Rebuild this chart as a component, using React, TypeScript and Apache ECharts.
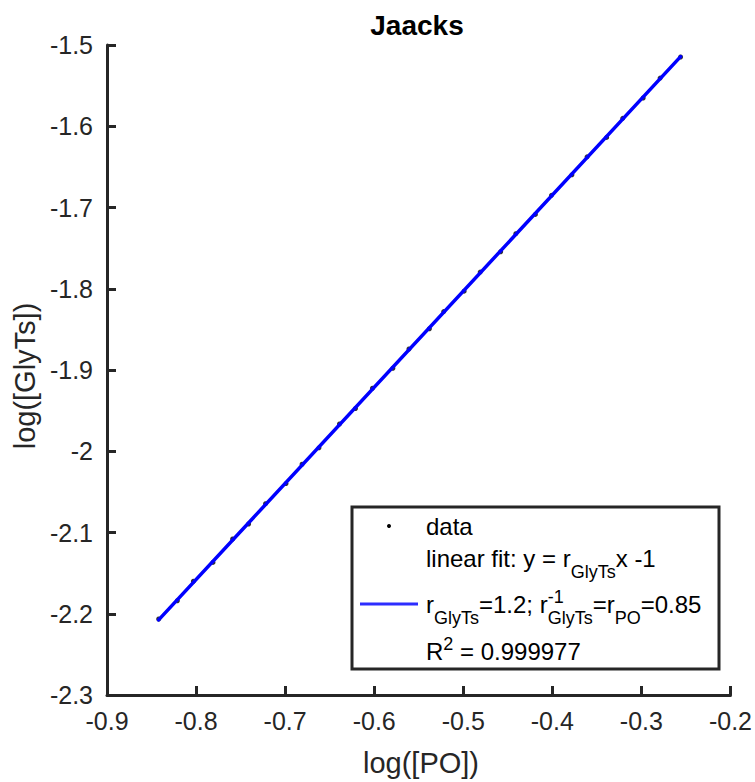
import React, { useEffect, useRef } from "react";
import * as echarts from "echarts";

// ---- data ----
const poX = [-0.842, -0.821, -0.803, -0.781, -0.759, -0.741, -0.722, -0.699, -0.681, -0.662, -0.639, -0.621, -0.602, -0.579, -0.561, -0.538, -0.522, -0.499, -0.481, -0.458, -0.441, -0.419, -0.401, -0.378, -0.361, -0.339, -0.321, -0.298, -0.279, -0.256];
const glyY = [-2.2065, -2.184, -2.16, -2.1368, -2.108, -2.0895, -2.0645, -2.0398, -2.016, -1.9958, -1.9665, -1.9474, -1.9225, -1.8978, -1.8742, -1.8492, -1.8281, -1.803, -1.7795, -1.7545, -1.7322, -1.7085, -1.685, -1.6598, -1.6376, -1.6137, -1.5903, -1.5652, -1.5407, -1.5148];
const fitX = [-0.842, -0.256];
const fitY = [-2.2076, -1.5143];

const TITLE = "Jaacks";
const X_NAME = "log([PO])";
const Y_NAME = "log([GlyTs])";

const FONT = '"Liberation Sans", Arial, Helvetica, sans-serif';
const MAIN = 24;
const SMALL = 18;
const TXT = "#000000";
const AX = "#262626";

type Seg = { t: string; k: "n" | "sub" | "sup" | "stack"; sup?: string; sub?: string };

let ctx: CanvasRenderingContext2D | null = null;
function measure(t: string, size: number): number {
  if (!ctx) {
    const c = document.createElement("canvas");
    ctx = c.getContext("2d");
  }
  if (!ctx) return t.length * size * 0.55;
  ctx.font = `${size}px ${FONT}`;
  return ctx.measureText(t).width;
}

function textEl(t: string, x: number, baseline: number, size: number) {
  return {
    type: "text",
    x,
    y: baseline - 0.35 * size,
    style: {
      text: t,
      font: `${size}px ${FONT}`,
      fill: TXT,
      textAlign: "left",
      textVerticalAlign: "middle",
    },
  };
}

function richRow(x0: number, base: number, segs: Seg[]) {
  const els: any[] = [];
  let x = x0;
  const SUB = 11;
  const SUP = -10;
  for (const s of segs) {
    if (s.k === "n") {
      els.push(textEl(s.t, x, base, MAIN));
      x += measure(s.t, MAIN);
    } else if (s.k === "sub") {
      els.push(textEl(s.t, x, base + SUB, SMALL));
      x += measure(s.t, SMALL);
    } else if (s.k === "sup") {
      els.push(textEl(s.t, x, base + SUP, SMALL));
      x += measure(s.t, SMALL);
    } else {
      const a = s.sup || "";
      const b = s.sub || "";
      els.push(textEl(a, x, base + SUP, SMALL));
      els.push(textEl(b, x, base + SUB, SMALL));
      x += Math.max(measure(a, SMALL), measure(b, SMALL));
    }
  }
  return els;
}

export default function App() {
  const ref = useRef<HTMLDivElement>(null);
  useEffect(() => {
    if (!ref.current) return;
    const chart = echarts.init(ref.current, undefined, { renderer: "svg" });
    const scatterData = poX.map((x, i) => [x, glyY[i]]);
    const fitData = fitX.map((x, i) => [x, fitY[i]]);

    const tx = 426;
    const legendEls: any[] = [
      {
        type: "rect",
        shape: { x: 352, y: 507, width: 367, height: 162 },
        style: { fill: "#ffffff", stroke: AX, lineWidth: 3 },
        z: 10,
      },
      {
        type: "circle",
        shape: { cx: 389, cy: 526, r: 2 },
        style: { fill: "#000000" },
        z: 11,
      },
      {
        type: "line",
        shape: { x1: 360, y1: 604, x2: 418, y2: 604 },
        style: { stroke: "#2d2dff", lineWidth: 3 },
        z: 11,
      },
      ...richRow(tx, 535, [{ t: "data", k: "n" }]),
      ...richRow(tx, 567, [
        { t: "linear fit: y = r", k: "n" },
        { t: "GlyTs", k: "sub" },
        { t: "x -1", k: "n" },
      ]),
      ...richRow(tx, 613, [
        { t: "r", k: "n" },
        { t: "GlyTs", k: "sub" },
        { t: "=1.2; r", k: "n" },
        { t: "", k: "stack", sup: "-1", sub: "GlyTs" },
        { t: "=r", k: "n" },
        { t: "PO", k: "sub" },
        { t: "=0.85", k: "n" },
      ]),
      ...richRow(tx, 660, [
        { t: "R", k: "n" },
        { t: "2", k: "sup" },
        { t: " = 0.999977", k: "n" },
      ]),
    ].map((e) => (e.z ? e : { ...e, z: 12 }));

    chart.setOption({
      animation: false,
      backgroundColor: "#ffffff",
      grid: { left: 107, right: 20, top: 45, bottom: 87, containLabel: false },
      xAxis: {
        type: "value",
        min: -0.9,
        max: -0.2,
        interval: 0.1,
        axisLine: { show: true, lineStyle: { color: AX, width: 3 } },
        axisTick: { show: true, inside: true, length: 9, lineStyle: { color: AX, width: 3 } },
        splitLine: { show: false },
        axisLabel: {
          color: AX,
          fontSize: 25,
          fontFamily: FONT,
          margin: 13,
          showMinLabel: true,
          showMaxLabel: true,
          formatter: (v: number) => v.toFixed(1),
        },
      },
      yAxis: {
        type: "value",
        min: -2.3,
        max: -1.5,
        interval: 0.1,
        axisLine: { show: true, lineStyle: { color: AX, width: 3 } },
        axisTick: { show: true, inside: true, length: 9, lineStyle: { color: AX, width: 3 } },
        splitLine: { show: false },
        axisLabel: {
          color: AX,
          fontSize: 25,
          fontFamily: FONT,
          margin: 14,
          showMinLabel: true,
          showMaxLabel: true,
          formatter: (v: number) => String(parseFloat(v.toFixed(1))),
        },
      },
      series: [
        {
          type: "scatter",
          data: scatterData,
          symbol: "circle",
          symbolSize: 5,
          itemStyle: { color: "#000000" },
          z: 2,
        },
        {
          type: "line",
          data: fitData,
          symbol: "none",
          lineStyle: { color: "#0000ff", width: 3.5, cap: "round" },
          z: 3,
        },
      ],
      graphic: [
        {
          type: "text",
          x: 417,
          y: 25,
          style: {
            text: TITLE,
            font: `bold 28px ${FONT}`,
            fill: "#000000",
            textAlign: "center",
            textVerticalAlign: "middle",
          },
        },
        {
          type: "text",
          x: 421,
          y: 763,
          style: {
            text: X_NAME,
            font: `29px ${FONT}`,
            fill: AX,
            textAlign: "center",
            textVerticalAlign: "middle",
          },
        },
        {
          type: "text",
          x: 25,
          y: 376,
          rotation: Math.PI / 2,
          style: {
            text: Y_NAME,
            font: `29px ${FONT}`,
            fill: AX,
            textAlign: "center",
            textVerticalAlign: "middle",
          },
        },
        ...legendEls,
      ],
    });
    return () => chart.dispose();
  }, []);
  return (
    <div
      ref={ref}
      style={{ position: "fixed", left: 0, top: 0, width: 755, height: 782, background: "#fff" }}
    />
  );
}
